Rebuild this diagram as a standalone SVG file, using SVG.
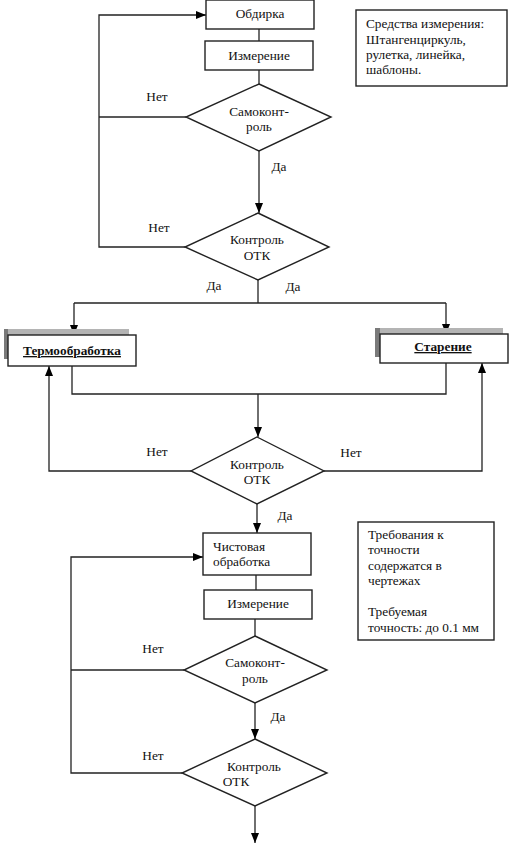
<svg xmlns="http://www.w3.org/2000/svg" width="509" height="844" viewBox="0 0 509 844">
<defs>
<marker id="arr" markerUnits="userSpaceOnUse" markerWidth="11" markerHeight="9" refX="10" refY="4" orient="auto">
<path d="M0,0 L10,4 L0,8 z" fill="#000"/>
</marker>
<style>
text{font-family:"Liberation Serif","Times New Roman",serif;font-size:13.3px;fill:#111}
.c{text-anchor:middle}
.b{font-weight:bold;text-decoration:underline}
.box{fill:#fff;stroke:#222;stroke-width:1.4}
.sh{fill:#b4b4b4}
.shd{fill:#7a7a7a}
.ln{fill:none;stroke:#222;stroke-width:1.3}
.ar{fill:none;stroke:#222;stroke-width:1.3;marker-end:url(#arr)}
</style>
</defs>
<rect width="509" height="844" fill="#fff"/>
<g id="connectors">
<line class="ln" x1="259" y1="29" x2="259" y2="41"/>
<line class="ln" x1="259" y1="70" x2="259" y2="84"/>
<line class="ar" x1="259" y1="151" x2="259" y2="213"/>
<line class="ln" x1="186" y1="117" x2="99" y2="117"/>
<polyline class="ar" points="185,247 99,247 99,15 206,15"/>
<line class="ln" x1="258" y1="280" x2="258" y2="303"/>
<line class="ln" x1="74" y1="303" x2="446" y2="303"/>
<line class="ar" x1="74" y1="303" x2="74" y2="335"/>
<line class="ar" x1="446" y1="303" x2="446" y2="334"/>
<polyline class="ln" points="72,366 72,394 446,394 446,362"/>
<line class="ar" x1="258" y1="394" x2="258" y2="437"/>
<polyline class="ar" points="191,471 49,471 49,366"/>
<polyline class="ar" points="324,471 482,471 482,363"/>
<line class="ar" x1="257" y1="504" x2="257" y2="533"/>
<line class="ln" x1="256" y1="575" x2="256" y2="590"/>
<line class="ln" x1="255" y1="619" x2="255" y2="636"/>
<line class="ar" x1="255" y1="703" x2="255" y2="739"/>
<line class="ln" x1="184" y1="670" x2="71" y2="670"/>
<polyline class="ar" points="182,773 71,773 71,557 203,557"/>
<line class="ar" x1="255" y1="806" x2="255" y2="843"/>
</g>
<g id="labels">
<text class="c" x="157" y="101">Нет</text>
<text class="c" x="159" y="232">Нет</text>
<text class="c" x="279" y="171">Да</text>
<text class="c" x="214" y="290">Да</text>
<text class="c" x="293" y="291">Да</text>
<text class="c" x="157" y="456">Нет</text>
<text class="c" x="351" y="457">Нет</text>
<text class="c" x="285" y="520">Да</text>
<text class="c" x="153" y="653">Нет</text>
<text class="c" x="153" y="760">Нет</text>
<text class="c" x="278" y="721">Да</text>
</g>
<g id="n-obdirka">
<rect class="box" x="206" y="0" width="108" height="29"/>
<text class="c" x="260" y="18">Обдирка</text>
</g>
<g id="n-izmerenie1">
<rect class="box" x="205" y="41" width="108" height="29"/>
<text class="c" x="259" y="59.5">Измерение</text>
</g>
<g id="n-samokontrol1">
<polygon class="box" points="259,84 331,117 259,151 186,117"/>
<text class="c" x="259" y="116">Самоконт-</text>
<text class="c" x="259" y="131">роль</text>
</g>
<g id="n-otk1">
<polygon class="box" points="258,213 329,247 258,280 185,247"/>
<text class="c" x="257" y="244">Контроль</text>
<text class="c" x="257" y="260">ОТК</text>
</g>
<g id="n-note1">
<rect class="box" x="356" y="10" width="151" height="76"/>
<text x="366" y="28">Средства измерения:</text>
<text x="366" y="44">Штангенциркуль,</text>
<text x="366" y="59">рулетка, линейка,</text>
<text x="366" y="74">шаблоны.</text>
</g>
<g id="n-termo">
<rect class="sh" x="4" y="329" width="125" height="30"/>
<rect class="shd" x="4" y="329" width="4" height="30"/>
<rect class="box" x="8" y="335" width="128" height="31"/>
<text class="c b" x="72" y="355">Термообработка</text>
</g>
<g id="n-starenie">
<rect class="sh" x="375" y="328" width="128" height="29"/>
<rect class="shd" x="375" y="328" width="5" height="29"/>
<rect class="box" x="380" y="334" width="128" height="29"/>
<text class="c b" x="443" y="351">Старение</text>
</g>
<g id="n-otk2">
<polygon class="box" points="257,437 324,471 257,504 191,471"/>
<text class="c" x="257" y="469">Контроль</text>
<text class="c" x="257" y="484">ОТК</text>
</g>
<g id="n-chistovaya">
<rect class="box" x="203" y="533" width="108" height="42"/>
<text x="213" y="551">Чистовая</text>
<text x="213" y="566">обработка</text>
</g>
<g id="n-izmerenie2">
<rect class="box" x="204" y="590" width="108" height="29"/>
<text class="c" x="258" y="608">Измерение</text>
</g>
<g id="n-samokontrol2">
<polygon class="box" points="255,636 327,670 255,703 184,670"/>
<text class="c" x="255" y="667">Самоконт-</text>
<text class="c" x="255" y="683">роль</text>
</g>
<g id="n-otk3">
<polygon class="box" points="255,739 327,773 255,806 182,773"/>
<text class="c" x="254" y="771">Контроль</text>
<text class="c" x="236" y="786">ОТК</text>
</g>
<g id="n-note2">
<rect class="box" x="358" y="522" width="136" height="118"/>
<text x="368" y="539">Требования к</text>
<text x="368" y="554">точности</text>
<text x="368" y="570">содержатся в</text>
<text x="368" y="585">чертежах</text>
<text x="368" y="616">Требуемая</text>
<text x="368" y="632">точность: до 0.1 мм</text>
</g>
</svg>
